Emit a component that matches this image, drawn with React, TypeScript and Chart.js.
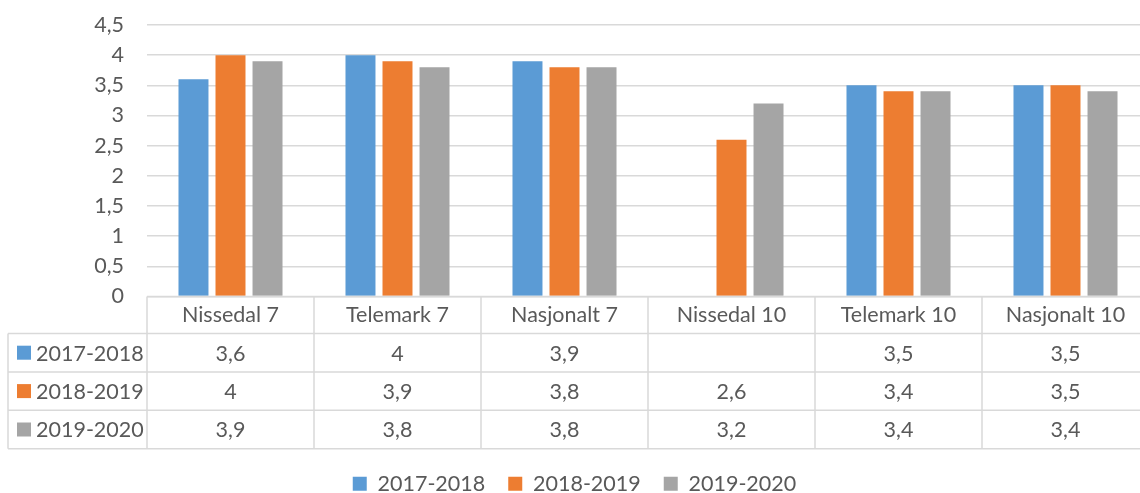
import { useEffect, useRef } from 'react';
import { Chart, registerables } from 'chart.js';

Chart.register(...registerables);

const categories = ['Nissedal 7', 'Telemark 7', 'Nasjonalt 7', 'Nissedal 10', 'Telemark 10', 'Nasjonalt 10'];
const seriesNames = ['2017-2018', '2018-2019', '2019-2020'];
const values2017 = [3.6, 4, 3.9, null, 3.5, 3.5];
const values2018 = [4, 3.9, 3.8, 2.6, 3.4, 3.5];
const values2019 = [3.9, 3.8, 3.8, 3.2, 3.4, 3.4];
const yTickLabels = ['0', '0,5', '1', '1,5', '2', '2,5', '3', '3,5', '4', '4,5'];
const seriesColors = ['#5B9BD5', '#ED7D31', '#A5A5A5'];

const FONT = 'Lato, "Noto Sans", sans-serif';
const FONT_SIZE = 21.5;
const TEXT = '#595959';
const LINE = '#D9D9D9';

const fmt = (v: number | null) => (v === null || v === undefined ? '' : String(v).replace('.', ','));

const dataTablePlugin = {
  id: 'dataTable',
  afterDraw(chart: any) {
    const { ctx, chartArea, scales } = chart;
    const x = scales.x;
    const top = chartArea.bottom;
    const headerH = 37;
    const rowH = 38.4;
    const tableLeft = 8;
    const n = categories.length;
    const colW = (chartArea.right - chartArea.left) / n;
    const right = chartArea.right;
    const rowsTop = top + headerH;
    const bottom = rowsTop + rowH * seriesNames.length;

    ctx.save();
    ctx.strokeStyle = LINE;
    ctx.lineWidth = 1.5;
    const line = (x1: number, y1: number, x2: number, y2: number) => {
      ctx.beginPath();
      ctx.moveTo(x1, y1);
      ctx.lineTo(x2, y2);
      ctx.stroke();
    };
    line(chartArea.left, top, right, top);
    for (let r = 0; r <= seriesNames.length; r++) {
      line(tableLeft, rowsTop + r * rowH, right, rowsTop + r * rowH);
    }
    line(tableLeft, rowsTop, tableLeft, bottom);
    for (let i = 0; i <= n; i++) {
      const xb = chartArea.left + i * colW;
      line(xb, top, xb, bottom);
    }

    ctx.font = `${FONT_SIZE}px ${FONT}`;
    ctx.fillStyle = TEXT;
    ctx.textBaseline = 'middle';
    chart.data.datasets.forEach((ds: any, r: number) => {
      const cy = rowsTop + r * rowH + rowH / 2;
      ctx.fillStyle = ds.backgroundColor;
      ctx.fillRect(17, cy - 7, 14, 14);
      ctx.fillStyle = TEXT;
      ctx.textAlign = 'left';
      ctx.fillText(ds.label, 36, cy + 1);
      ctx.textAlign = 'center';
      ds.data.forEach((v: number | null, i: number) => {
        ctx.fillText(fmt(v), x.getPixelForValue(i), cy + 1);
      });
    });
    ctx.restore();
  },
};

export default function App() {
  const ref = useRef<HTMLCanvasElement | null>(null);
  useEffect(() => {
    if (!ref.current) return;
    const seriesValues = [values2017, values2018, values2019];
    const chart = new Chart(ref.current, {
      type: 'bar',
      data: {
        labels: categories,
        datasets: seriesNames.map((name, i) => ({
          label: name,
          data: seriesValues[i],
          backgroundColor: seriesColors[i],
          borderWidth: 0,
          categoryPercentage: 0.665,
          barPercentage: 0.81,
        })),
      },
      options: {
        responsive: false,
        animation: false,
        layout: { padding: { top: 25, right: 1, bottom: -11.5, left: 0 } },
        plugins: {
          tooltip: { enabled: false },
          legend: {
            position: 'bottom',
            labels: {
              color: TEXT,
              font: { family: FONT, size: FONT_SIZE },
              boxWidth: 14,
              boxHeight: 14,
              padding: 23,
            },
          },
        },
        scales: {
          x: {
            grid: { display: false, drawTicks: false },
            border: { display: false },
            ticks: {
              color: TEXT,
              font: { family: FONT, size: FONT_SIZE },
              padding: 6,
              maxRotation: 0,
              autoSkip: false,
            },
            afterFit: (scale: any) => {
              scale.height = 153.5;
            },
          },
          y: {
            min: 0,
            max: 4.5,
            ticks: {
              stepSize: 0.5,
              color: TEXT,
              font: { family: FONT, size: FONT_SIZE },
              padding: 23,
              callback: (_v: any, idx: number) => yTickLabels[idx],
            },
            grid: { color: LINE, lineWidth: 1.5, drawTicks: false },
            border: { display: false },
            afterFit: (scale: any) => {
              scale.width = 147;
              scale.paddingTop = 0;
              scale.paddingBottom = 0;
            },
          },
        },
      },
      plugins: [dataTablePlugin],
    });
    return () => chart.destroy();
  }, []);
  return (
    <div style={{ position: 'fixed', left: 0, top: 0, width: 1150, height: 493, background: '#fff' }}>
      <canvas ref={ref} width={1150} height={493} />
    </div>
  );
}
